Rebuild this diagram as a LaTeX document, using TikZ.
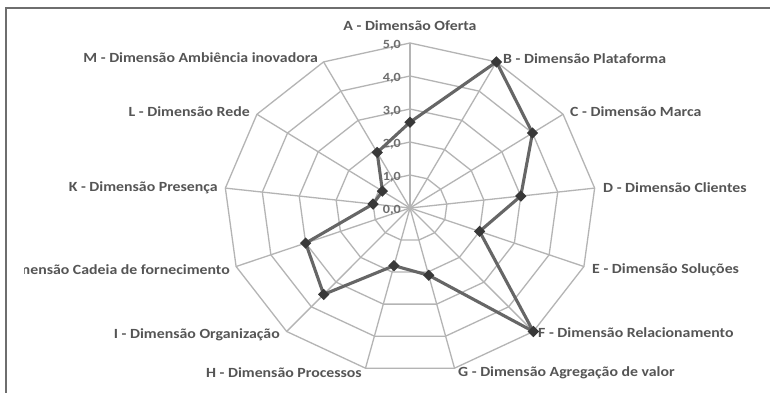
\documentclass[tikz,border=0pt]{standalone}
\usepackage{fontspec}
\setmainfont[FakeStretch=1.13]{Carlito}
\usetikzlibrary{shapes.geometric}
\definecolor{labelgray}{HTML}{555555}
\definecolor{gridgray}{HTML}{B4B4B4}
\definecolor{seriesgray}{HTML}{666666}
\definecolor{markgray}{HTML}{383838}
\definecolor{framegray}{HTML}{6E6E6E}
\begin{document}
\begin{tikzpicture}[x=1pt,y=1pt,
  axislabel/.style={font=\fontsize{14}{16}\selectfont\bfseries, text=labelgray, inner sep=0pt},
  ticklabel/.style={font=\fontsize{12.5}{14}\selectfont\bfseries, text=labelgray!85, inner sep=0pt, anchor=east},
  gridline/.style={draw=gridgray, line width=1.3pt},
  series/.style={draw=seriesgray, line width=3.1pt, line join=round},
  marker/.style={diamond, fill=markgray, minimum size=11.5pt, inner sep=0pt},
  chartframe/.style={draw=framegray, line width=1.5pt}]
\useasboundingbox (0,0) rectangle (770,393);
\fill[white] (0,0) rectangle (770,393);

% outer frame of the chart area
\draw[chartframe] (770,385) -- (6,385) -- (6,0);

% radar grid: 13 axes, 5 rings, horizontal radius 37.2 and vertical radius 33 per unit
\def\xr{37.2}
\def\yr{33}
\begin{scope}[shift={(410,185)}]
  \coordinate (c) at (0,0);
  \foreach \k in {0,...,12}
    \draw[gridline] (c) -- ({5*\xr*sin(\k*360/13)},{5*\yr*cos(\k*360/13)});
  \foreach \r in {1,...,5}
    \draw[gridline] (0,{\r*\yr}) \foreach \k in {1,...,12}{ -- ({\r*\xr*sin(\k*360/13)},{\r*\yr*cos(\k*360/13)}) } -- cycle;
\end{scope}

% scale values along axis A
\foreach \r in {0,...,5}
  \node[ticklabel] (t\r) at (401,{183+33*\r}) {\r,0};

% axis titles
\node[axislabel, anchor=center] (la) at (410,367) {A - Dimensão Oferta};
\node[axislabel, anchor=west] (lb) at (503,334) {B - Dimensão Plataforma};
\node[axislabel, anchor=west] (lc) at (570,281) {C - Dimensão Marca};
\node[axislabel, anchor=west] (ld) at (603,205) {D - Dimensão Clientes};
\node[axislabel, anchor=west] (le) at (592,123) {E - Dimensão Soluções};
\node[axislabel, anchor=west] (lf) at (538,60) {F - Dimensão Relacionamento};
\node[axislabel, anchor=west] (lg) at (458,20) {G - Dimensão Agregação de valor};
\node[axislabel, anchor=east] (lh) at (362,20) {H - Dimensão Processos};
\node[axislabel, anchor=east] (li) at (280,58) {I - Dimensão Organização};
% this title runs past the left edge of the plot area and is cut there
\begin{scope}
  \clip (24,0) rectangle (770,393);
  \node[axislabel, anchor=east] (lj) at (230,123) {J - Dimensão Cadeia de fornecimento};
\end{scope}
\node[axislabel, anchor=east] (lk) at (218,205) {K - Dimensão Presença};
\node[axislabel, anchor=east] (ll) at (250,281) {L - Dimensão Rede};
\node[axislabel, anchor=east] (lm) at (318,335) {M - Dimensão Ambiência inovadora};

% data series
\begin{scope}[shift={(410,185)}]
  \foreach \k/\v/\n in {0/2.6/a,1/5.0/b,2/4.0/c,3/3.0/d,4/2.0/e,5/5.0/f,6/2.1/g,
                        7/1.8/h,8/3.5/i,9/3.0/j,10/1.0/k,11/0.9/l,12/1.9/m}
    \coordinate (p\n) at ({\v*\xr*sin(\k*360/13)},{\v*\yr*cos(\k*360/13)});
  \draw[series] (pa) -- (pb) -- (pc) -- (pd) -- (pe) -- (pf) -- (pg)
    -- (ph) -- (pi) -- (pj) -- (pk) -- (pl) -- (pm) -- cycle;
  \foreach \n in {a,b,c,d,e,f,g,h,i,j,k,l,m}
    \node[marker] (m\n) at (p\n) {};
\end{scope}
\end{tikzpicture}
\end{document}
